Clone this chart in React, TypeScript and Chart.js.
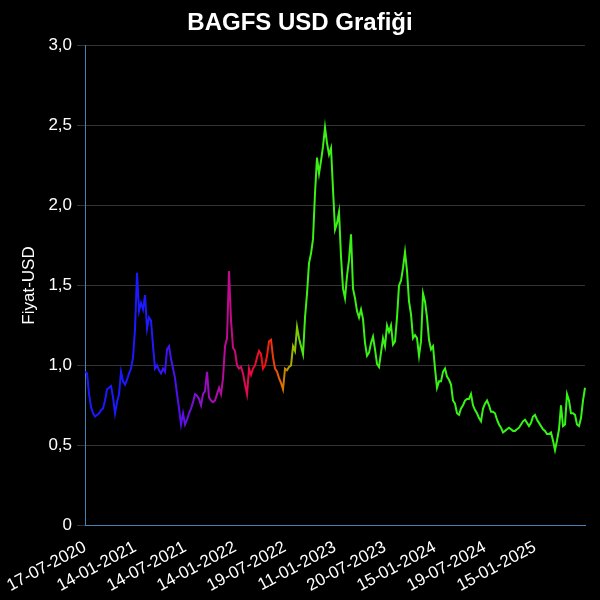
import React, { useRef, useEffect } from "react";
import Chart from "chart.js/auto";

// BAGFS closing price in USD, sampled evenly from 17-07-2020 to mid-2025
const prices: number[] = [
  0.96, 0.95, 0.82, 0.74, 0.7, 0.68, 0.69, 0.7, 0.72, 0.73,
  0.78, 0.85, 0.86, 0.87, 0.8, 0.7, 0.77, 0.82, 0.96, 0.9,
  0.88, 0.91, 0.95, 0.98, 1.05, 1.23, 1.58, 1.34, 1.39, 1.35,
  1.44, 1.23, 1.3, 1.28, 1.12, 0.98, 1.0, 0.97, 0.95, 0.98,
  0.96, 1.1, 1.12, 1.04, 0.98, 0.92, 0.82, 0.73, 0.63, 0.7,
  0.63, 0.66, 0.7, 0.73, 0.77, 0.82, 0.81, 0.79, 0.75, 0.82,
  0.84, 0.96, 0.8, 0.78, 0.77, 0.78, 0.82, 0.86, 0.82, 0.92,
  1.12, 1.17, 1.59, 1.28, 1.11, 1.09, 1.0, 0.98, 0.99, 0.95,
  0.88, 0.82, 0.98, 0.94, 0.98, 1.0, 1.05, 1.09, 1.07, 0.98,
  1.0, 1.06, 1.15, 1.16, 1.05, 0.98, 0.96, 0.92, 0.89, 0.85,
  0.98, 0.97, 0.99, 1.0, 1.12, 1.09, 1.24, 1.17, 1.12, 1.07,
  1.3, 1.45, 1.64, 1.7, 1.79, 2.08, 2.3, 2.2, 2.28, 2.37,
  2.49, 2.39, 2.32, 2.36, 2.1, 1.85, 1.89, 1.96, 1.68, 1.48,
  1.42, 1.56, 1.66, 1.82, 1.48, 1.42, 1.34, 1.3, 1.35, 1.29,
  1.14, 1.06, 1.08, 1.14, 1.18, 1.1, 1.01, 0.99, 1.08, 1.17,
  1.12, 1.25, 1.21, 1.25, 1.13, 1.15, 1.3, 1.5, 1.53, 1.61,
  1.71, 1.59, 1.4, 1.32, 1.17, 1.19, 1.17, 1.06, 1.15, 1.45,
  1.4, 1.3, 1.16, 1.1, 1.12, 0.98, 0.86, 0.9, 0.9, 0.96,
  0.98, 0.93, 0.91, 0.88, 0.78, 0.76, 0.7, 0.69, 0.73, 0.75,
  0.78, 0.79, 0.79, 0.82, 0.75, 0.72, 0.7, 0.67, 0.65, 0.73,
  0.76, 0.78, 0.75, 0.71, 0.71, 0.7, 0.66, 0.63, 0.61, 0.58,
  0.59, 0.6, 0.61, 0.6, 0.59, 0.59, 0.6, 0.61, 0.63, 0.65,
  0.66, 0.64, 0.62, 0.64, 0.68, 0.69, 0.66, 0.64, 0.62, 0.6,
  0.59, 0.57, 0.57, 0.58, 0.53, 0.47, 0.53, 0.6, 0.75, 0.62,
  0.63, 0.82, 0.78, 0.7, 0.7, 0.69, 0.63, 0.62, 0.67, 0.78,
  0.86,
];

// dates shown on the x axis, one every TICK_EVERY samples
const tickDates: string[] = [
  "17-07-2020",
  "14-01-2021",
  "14-07-2021",
  "14-01-2022",
  "19-07-2022",
  "11-01-2023",
  "20-07-2023",
  "15-01-2024",
  "19-07-2024",
  "15-01-2025",
];
const TICK_EVERY = 25;

const labels: string[] = prices.map((_, i) =>
  i % TICK_EVERY === 0 ? tickDates[i / TICK_EVERY] ?? "" : ""
);

// colour of the line along the time axis (blue -> purple -> red -> green)
const lineStops: [number, string][] = [
  [0, "rgb(25,25,255)"],
  [0.13, "rgb(30,25,255)"],
  [0.19, "rgb(85,15,235)"],
  [0.23, "rgb(140,15,205)"],
  [0.29, "rgb(195,10,140)"],
  [0.33, "rgb(230,10,70)"],
  [0.36, "rgb(245,15,15)"],
  [0.39, "rgb(230,100,0)"],
  [0.415, "rgb(160,180,0)"],
  [0.44, "rgb(60,240,20)"],
  [1, "rgb(50,245,20)"],
];

Chart.defaults.font.family = "'Liberation Sans', Arial, sans-serif";

export default function App() {
  const canvasRef = useRef<HTMLCanvasElement>(null);

  useEffect(() => {
    document.body.style.margin = "0";
    document.body.style.background = "#000";
    const ctx = canvasRef.current?.getContext("2d");
    if (!ctx) return;

    const chart = new Chart(ctx, {
      type: "line",
      data: {
        labels,
        datasets: [
          {
            label: "BAGFS",
            data: prices,
            borderWidth: 2,
            pointRadius: 0,
            tension: 0,
            borderColor: (c: any) => {
              const area = c.chart.chartArea;
              if (!area) return "rgb(50,245,20)";
              const g = c.chart.ctx.createLinearGradient(area.left, 0, area.right, 0);
              lineStops.forEach(([t, col]) => g.addColorStop(t, col));
              return g;
            },
          },
        ],
      },
      options: {
        responsive: false,
        animation: false,
        locale: "tr-TR",
        layout: { padding: { left: 15, right: 15, bottom: 0 } },
        plugins: {
          legend: { display: false },
          tooltip: { enabled: false },
          title: {
            display: true,
            text: "BAGFS USD Grafiği",
            color: "#fff",
            font: { size: 24, weight: "bold" },
            padding: { top: 9, bottom: 8 },
          },
        },
        scales: {
          x: {
            ticks: {
              color: "#fff",
              font: { size: 17 },
              autoSkip: false,
              minRotation: 28,
              maxRotation: 28,
              padding: 4,
            },
            grid: { display: false },
            border: { color: "#4682b4" },
          },
          y: {
            min: 0,
            max: 3,
            ticks: { stepSize: 0.5, color: "#fff", font: { size: 17 }, padding: 5 },
            grid: { color: "#333" },
            border: { color: "#4682b4" },
            title: {
              display: true,
              text: "Fiyat-USD",
              color: "#fff",
              font: { size: 17 },
            },
          },
        },
      },
    });
    return () => chart.destroy();
  }, []);

  return (
    <div style={{ width: 600, height: 600, background: "#000" }}>
      <canvas ref={canvasRef} width={600} height={600} />
    </div>
  );
}
